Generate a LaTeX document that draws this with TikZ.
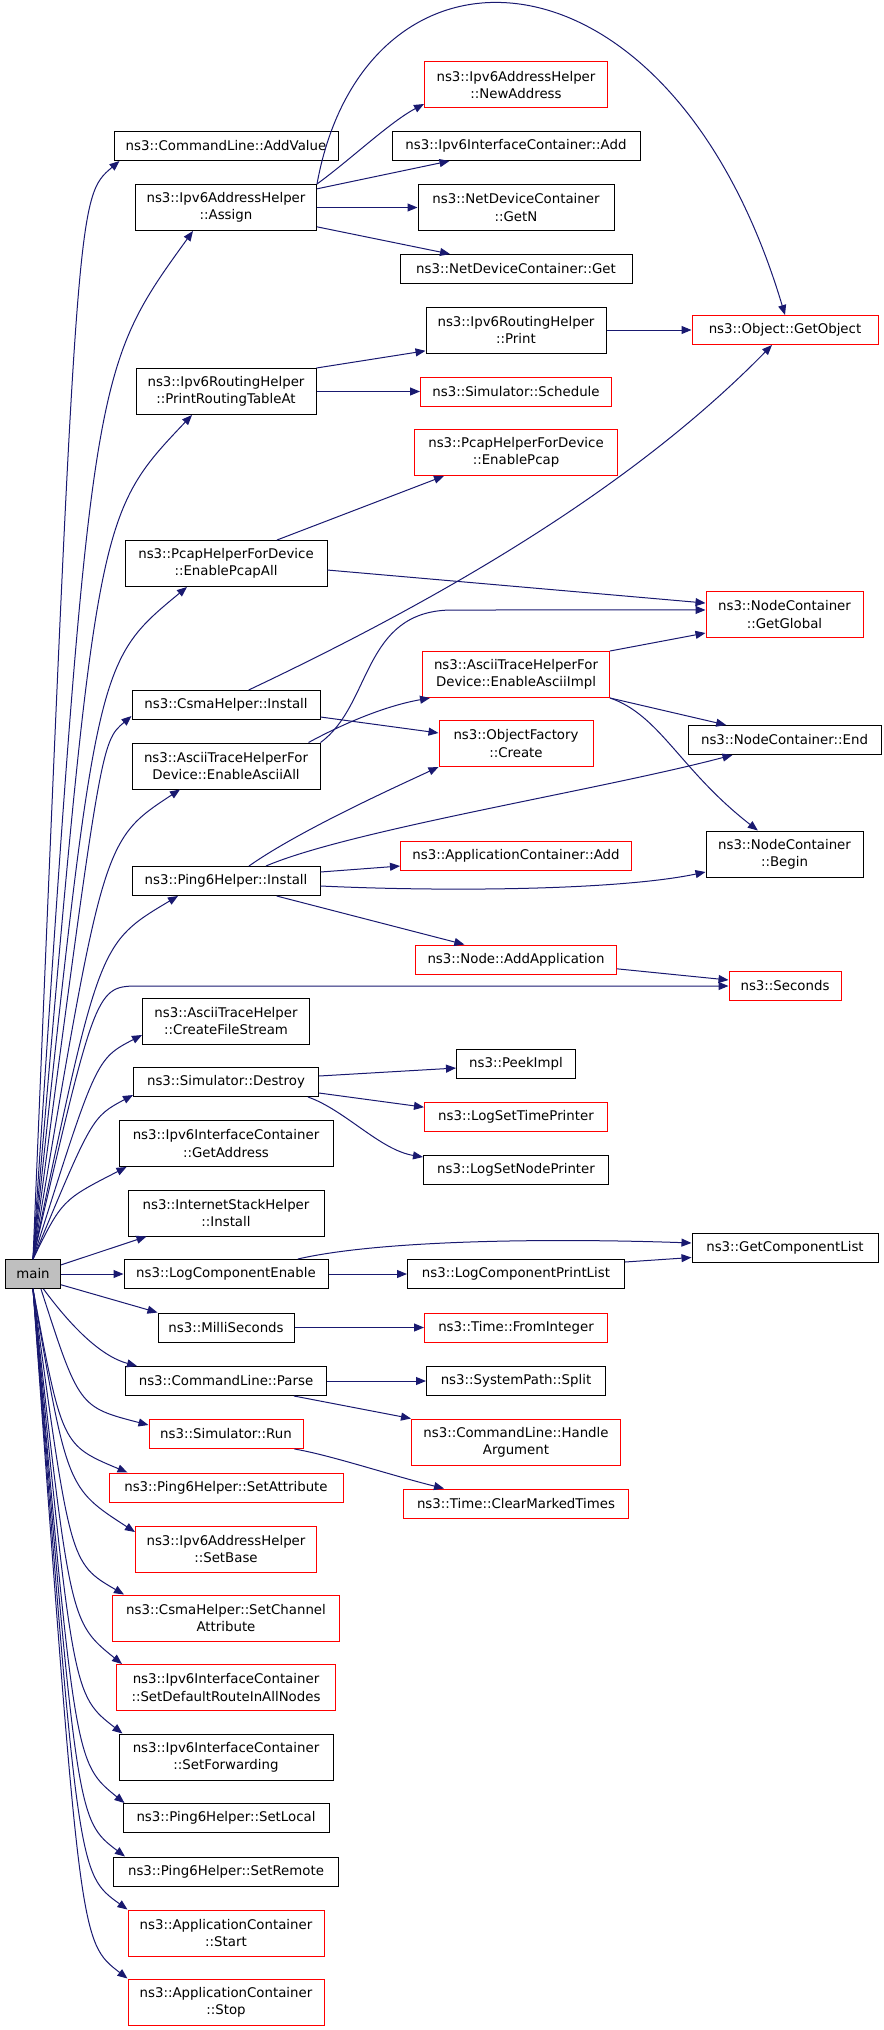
\documentclass[tikz,border=0pt]{standalone}
\usepackage{fontspec}
\setmainfont{DejaVu Sans}
\usetikzlibrary{arrows.meta}

\definecolor{edgeblue}{RGB}{25,25,112}
\definecolor{mainfill}{RGB}{191,191,191}

\tikzset{
  fn/.style={draw=black, line width=0.75pt, fill=white, align=center, inner sep=1pt,
    minimum height=21.75pt, font=\fontsize{10}{13}\selectfont},
  fnred/.style={fn, draw=red},
  two/.style={minimum height=34.5pt},
  boxw/.style={minimum width=#1*0.75pt},
  call/.style={edgeblue, line width=0.75pt, -{Triangle[length=7.5pt,width=6pt]}},
}

\begin{document}
\begin{tikzpicture}[x=0.75pt,y=-0.75pt]
\useasboundingbox (0,0) rectangle (883,2030);

\node[fn, fill=mainfill, boxw=55] (main) at (33,1274) {main};

\node[fn, boxw=224] (addvalue) at (226,146) {ns3::CommandLine::AddValue};
\node[fn, two, boxw=181] (assign) at (226,207.5) {ns3::Ipv6AddressHelper\\::Assign};
\node[fn, two, boxw=180] (prta) at (226,391.5) {ns3::Ipv6RoutingHelper\\::PrintRoutingTableAt};
\node[fn, two, boxw=202] (pcapall) at (226,563.5) {ns3::PcapHelperForDevice\\::EnablePcapAll};
\node[fn, boxw=188] (csmainstall) at (226,705) {ns3::CsmaHelper::Install};
\node[fn, two, boxw=188] (asciiall) at (226,766) {ns3::AsciiTraceHelperFor\\Device::EnableAsciiAll};
\node[fn, boxw=188] (pinginstall) at (226,881) {ns3::Ping6Helper::Install};
\node[fn, two, boxw=167] (filestream) at (226,1021) {ns3::AsciiTraceHelper\\::CreateFileStream};
\node[fn, boxw=185] (destroy) at (226,1082) {ns3::Simulator::Destroy};
\node[fn, two, boxw=214] (getaddress) at (226,1143.5) {ns3::Ipv6InterfaceContainer\\::GetAddress};
\node[fn, two, boxw=196] (inetinstall) at (226,1213) {ns3::InternetStackHelper\\::Install};
\node[fn, boxw=204] (logenable) at (226,1274) {ns3::LogComponentEnable};
\node[fn, boxw=136] (millisec) at (226,1327.5) {ns3::MilliSeconds};
\node[fn, boxw=201] (parse) at (226,1381) {ns3::CommandLine::Parse};
\node[fnred, boxw=154] (simrun) at (226,1434) {ns3::Simulator::Run};
\node[fnred, boxw=234] (setattr) at (226,1487.5) {ns3::Ping6Helper::SetAttribute};
\node[fnred, two, boxw=181] (setbase) at (226,1549) {ns3::Ipv6AddressHelper\\::SetBase};
\node[fnred, two, boxw=227] (setchannel) at (226,1618) {ns3::CsmaHelper::SetChannel\\Attribute};
\node[fnred, two, boxw=219] (setdefault) at (226,1687.5) {ns3::Ipv6InterfaceContainer\\::SetDefaultRouteInAllNodes};
\node[fn, two, boxw=214] (setfwd) at (226,1757) {ns3::Ipv6InterfaceContainer\\::SetForwarding};
\node[fn, boxw=206] (setlocal) at (226,1818) {ns3::Ping6Helper::SetLocal};
\node[fn, boxw=225] (setremote) at (226,1871.5) {ns3::Ping6Helper::SetRemote};
\node[fnred, two, boxw=196] (appstart) at (226,1933) {ns3::ApplicationContainer\\::Start};
\node[fnred, two, boxw=196] (appstop) at (226,2002) {ns3::ApplicationContainer\\::Stop};

\node[fnred, two, boxw=183] (newaddr) at (516,85) {ns3::Ipv6AddressHelper\\::NewAddress};
\node[fn, boxw=248] (ifadd) at (516,146) {ns3::Ipv6InterfaceContainer::Add};
\node[fn, two, boxw=196] (getn) at (516,207.5) {ns3::NetDeviceContainer\\::GetN};
\node[fn, boxw=232] (devget) at (516,269) {ns3::NetDeviceContainer::Get};
\node[fn, two, boxw=180] (rtprint) at (516,330) {ns3::Ipv6RoutingHelper\\::Print};
\node[fnred, boxw=191] (schedule) at (516,391.5) {ns3::Simulator::Schedule};
\node[fnred, two, boxw=203] (enablepcap) at (516,452.5) {ns3::PcapHelperForDevice\\::EnablePcap};
\node[fnred, two, boxw=187] (asciiimpl) at (516,674.5) {ns3::AsciiTraceHelperFor\\Device::EnableAsciiImpl};
\node[fnred, two, boxw=154] (create) at (516,743.5) {ns3::ObjectFactory\\::Create};
\node[fnred, boxw=231] (appadd) at (516,855.5) {ns3::ApplicationContainer::Add};
\node[fnred, boxw=201] (addapp) at (516,959.5) {ns3::Node::AddApplication};
\node[fn, boxw=119] (peekimpl) at (516,1063.5) {ns3::PeekImpl};
\node[fnred, boxw=183] (timeprinter) at (516,1116.5) {ns3::LogSetTimePrinter};
\node[fn, boxw=185] (nodeprinter) at (516,1170) {ns3::LogSetNodePrinter};
\node[fn, boxw=217] (printlist) at (516,1274) {ns3::LogComponentPrintList};
\node[fnred, boxw=183] (frominteger) at (516,1327.5) {ns3::Time::FromInteger};
\node[fn, boxw=179] (split) at (516,1381) {ns3::SystemPath::Split};
\node[fnred, two, boxw=209] (handlearg) at (516,1442) {ns3::CommandLine::Handle\\Argument};
\node[fnred, boxw=225] (cleartimes) at (516,1503.5) {ns3::Time::ClearMarkedTimes};

\node[fnred, boxw=186] (getobject) at (785,330) {ns3::Object::GetObject};
\node[fnred, two, boxw=157] (getglobal) at (784.5,614.5) {ns3::NodeContainer\\::GetGlobal};
\node[fn, boxw=193] (ncend) at (784.5,740) {ns3::NodeContainer::End};
\node[fn, two, boxw=157] (ncbegin) at (784.5,854) {ns3::NodeContainer\\::Begin};
\node[fnred, boxw=112] (seconds) at (785,986) {ns3::Seconds};
\node[fn, boxw=186] (complist) at (785,1247.5) {ns3::GetComponentList};

% calls made by main, upwards
\draw[call] (main.north) .. controls (77,197) .. ([xshift=4.5pt]addvalue.south west);
\draw[call] (main.north) .. controls (91,372) .. ([xshift=-24.75pt]assign.south);
\draw[call] (main.north) .. controls (96,516) .. ([xshift=-25.5pt]prta.south);
\draw[call] (main.north) .. controls (96,662) .. ([xshift=-29.25pt]pcapall.south);
\draw[call] (main.north) .. controls (101,742) .. ([yshift=-8.25pt]csmainstall.west);
\draw[call] (main.north) .. controls (103,840) .. ([xshift=-34.5pt]asciiall.south);
\draw[call] (main.north) .. controls (99,943) .. ([xshift=-36pt]pinginstall.south);
\draw[call] (main.north) .. controls (96,986) .. (140,986) -- (seconds.west);
\draw[call] (main.north) .. controls (96,1059) .. ([yshift=-10.5pt]filestream.west);
\draw[call] (main.north) .. controls (92,1117) .. ([yshift=-9.75pt]destroy.west);
\draw[call] (main.north) .. controls (62,1200) .. ([xshift=6pt]getaddress.south west);
\draw[call] (main.18) -- ([xshift=14.25pt]inetinstall.south west);
\draw[call] (main.east) -- (logenable.west);
\draw[call] (main.-21) -- (millisec.north west);

% calls made by main, downwards
\draw[call] (main.-55) .. controls (70,1325) and (100,1356) .. ([xshift=9pt]parse.north west);
\draw[call] (main.-62) .. controls (79,1407) .. ([yshift=6.75pt]simrun.west);
\draw[call] (main.south) .. controls (62,1445) .. ([xshift=14.25pt]setattr.north west);
\draw[call] (main.south) .. controls (67,1488) .. ([yshift=12.75pt]setbase.west);
\draw[call] (main.south) .. controls (70,1563) .. ([xshift=9pt]setchannel.north west);
\draw[call] (main.south) .. controls (70,1622) .. ([xshift=4.5pt]setdefault.north west);
\draw[call] (main.south) .. controls (73,1695) .. ([xshift=3pt]setfwd.north west);
\draw[call] (main.south) .. controls (75,1763) .. ([xshift=1.5pt]setlocal.north west);
\draw[call] (main.south) .. controls (77,1820) .. ([xshift=9pt]setremote.north west);
\draw[call] (main.south) .. controls (78,1874) .. (appstart.north west);
\draw[call] (main.south) .. controls (80,1942) .. (appstop.north west);

% second level
\draw[call] (assign.north east) .. controls (350,160) and (390,122) .. ([yshift=-14.25pt]newaddr.west);
\draw[call] (assign.north east) .. controls (365,-80) and (670,-70) .. (getobject.north);
\draw[call] ([yshift=14pt]assign.east) -- ([xshift=43.5pt]ifadd.south west);
\draw[call] (assign.east) -- (getn.west);
\draw[call] ([yshift=-14.5pt]assign.east) -- ([xshift=-49.5pt]devget.north);
\draw[call] (prta.north east) -- ([yshift=2pt]rtprint.south west);
\draw[call] (prta.east) -- (schedule.west);
\draw[call] (rtprint.east) -- (getobject.west);
\draw[call] ([xshift=38.25pt]pcapall.north) -- ([xshift=22.5pt]enablepcap.south west);
\draw[call] ([yshift=-4.9pt]pcapall.east) -- ([yshift=8.6pt]getglobal.west);
\draw[call] ([xshift=17pt]csmainstall.north) .. controls (460,590) and (640,480) .. ([xshift=-9.75pt]getobject.south);
\draw[call] ([yshift=-9pt]csmainstall.east) -- ([yshift=7.9pt]create.west);
\draw[call] (asciiall.north east) .. controls (372,705) and (362,612) .. (450,610) -- ([yshift=3.4pt]getglobal.west);
\draw[call] ([xshift=-9pt]asciiall.north east) .. controls (350,720) and (390,705) .. ([xshift=6pt]asciiimpl.south west);
\draw[call] (asciiimpl.north east) -- ([yshift=3.75pt]getglobal.south west);
\draw[call] (asciiimpl.south east) -- ([xshift=29pt]ncend.north west);
\draw[call] (asciiimpl.south east) .. controls (660,715) and (680,770) .. ([xshift=-20pt]ncbegin.north);
\draw[call] ([xshift=17.25pt]pinginstall.north) .. controls (300,830) and (400,785) .. (create.south west);
\draw[call] ([xshift=30pt]pinginstall.north) .. controls (350,830) and (600,790) .. ([xshift=33.75pt]ncend.south west);
\draw[call] ([yshift=6.75pt]pinginstall.east) -- ([yshift=-7.9pt]appadd.west);
\draw[call] ([yshift=-3.75pt]pinginstall.east) .. controls (450,892) and (620,890) .. ([yshift=-13.5pt]ncbegin.west);
\draw[call] ([xshift=38pt]pinginstall.south) -- ([xshift=37pt]addapp.north west);
\draw[call] ([yshift=-7pt]addapp.east) -- ([yshift=4.5pt]seconds.west);
\draw[call] ([yshift=4.5pt]destroy.east) -- ([yshift=-3.4pt]peekimpl.west);
\draw[call] ([yshift=-8.25pt]destroy.east) -- ([yshift=7pt]timeprinter.west);
\draw[call] ([xshift=-8.25pt]destroy.south east) .. controls (345,1110) and (380,1150) .. ([yshift=9.75pt]nodeprinter.west);
\draw[call] ([xshift=-23pt]logenable.north east) .. controls (380,1240) and (550,1238) .. ([yshift=3.4pt]complist.west);
\draw[call] (logenable.east) -- (printlist.west);
\draw[call] ([yshift=-2.25pt]printlist.north east) -- ([yshift=3.75pt]complist.south west);
\draw[call] (millisec.east) -- (frominteger.west);
\draw[call] (parse.east) -- (split.west);
\draw[call] ([xshift=-24.75pt]parse.south east) -- (handlearg.north west);
\draw[call] ([xshift=-6.75pt]simrun.south east) .. controls (330,1455) and (390,1475) .. ([xshift=30.75pt]cleartimes.north west);
\end{tikzpicture}
\end{document}
